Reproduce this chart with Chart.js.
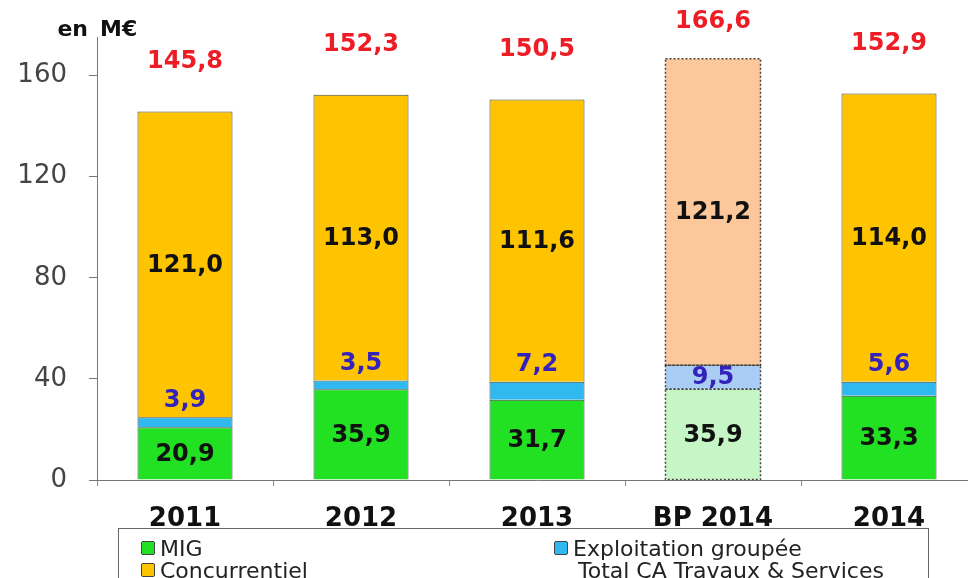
<!DOCTYPE html>
<html><head><meta charset="utf-8">
<script src="https://cdn.jsdelivr.net/npm/chart.js@4/dist/chart.umd.min.js"></script>
<style>
html,body{margin:0;padding:0;background:#fff;overflow:hidden;width:968px;height:578px;position:relative}
#c{position:absolute;left:0;top:0}
#legend{position:absolute;left:118px;top:528px;width:811px;height:60px;border:1px solid #666;font-family:'DejaVu Sans',sans-serif;font-size:22px;color:#222;box-sizing:border-box}
.item{position:absolute;display:flex;align-items:center;height:22px;white-space:nowrap}
.sw{width:14px;height:14px;border:1px solid #444;margin-right:5px;border-radius:2px;box-sizing:border-box}
</style></head>
<body>
<canvas id="c" width="980" height="532" style="width:980px;height:532px"></canvas>
<div id="legend"></div>
<script>
const categories = ['2011', '2012', '2013', 'BP 2014', '2014'];
const migValues = [20.9, 35.9, 31.7, 35.9, 33.3];
const exploitationValues = [3.9, 3.5, 7.2, 9.5, 5.6];
const concurrentielValues = [121.0, 113.0, 111.6, 121.2, 114.0];
const totalValues = [145.8, 152.3, 150.5, 166.6, 152.9];
const yTicks = [0, 40, 80, 120, 160];
const seriesNames = ['MIG', 'Exploitation groupée', 'Concurrentiel', 'Total CA Travaux & Services'];

const budgetIndex = 3;
const colors = {
  mig: ['#22e022', '#c6f5c6'],
  expl: ['#2fb9f0', '#a9cdf5'],
  conc: ['#ffc400', '#fcc89b']
};
const pick = (pair) => (ctx) => ctx.dataIndex === budgetIndex ? pair[1] : pair[0];
const bw = (ctx) => ctx.dataIndex === budgetIndex ? 0 : 1;

const fmt = v => v.toFixed(1).replace('.', ',');

const labelsPlugin = {
  id: 'labelsPlugin',
  afterDatasetsDraw(chart) {
    const ctx = chart.ctx;
    const ys = chart.scales.y;
    ctx.save();
    // dotted outline for BP 2014
    ctx.strokeStyle = '#444';
    ctx.lineWidth = 1.5;
    ctx.setLineDash([2, 2]);
    for (let d = 0; d < 3; d++) {
      const el = chart.getDatasetMeta(d).data[budgetIndex];
      const w = el.width;
      ctx.strokeRect(el.x - w / 2, el.y, w, el.base - el.y);
    }
    ctx.setLineDash([]);
    ctx.font = 'bold 24px "DejaVu Sans"';
    ctx.textAlign = 'center';
    ctx.textBaseline = 'middle';
    chart.data.datasets.forEach((ds, d) => {
      const meta = chart.getDatasetMeta(d);
      meta.data.forEach((el, i) => {
        const v = ds.data[i];
        let y = (el.y + el.base) / 2;
        let color = '#111';
        if (d === 1) {
          color = '#3322bb';
          if (v < 9) y = el.y - 18;
        }
        ctx.fillStyle = color;
        ctx.fillText(fmt(v), el.x, y + 1);
      });
    });
    // totals
    const meta0 = chart.getDatasetMeta(0);
    ctx.fillStyle = '#ee1c25';
    totalValues.forEach((t, i) => {
      const x = meta0.data[i].x;
      let y = ys.getPixelForValue(t) - 50;
      if (y < 22) y = 22;
      ctx.fillText(fmt(t), x, y);
    });
    // unit label
    ctx.fillStyle = '#111';
    ctx.font = 'bold 22px "DejaVu Sans"';
    ctx.textBaseline = 'alphabetic';
    ctx.textAlign = 'right';
    ctx.fillText('en', 88, 36);
    ctx.textAlign = 'left';
    ctx.fillText('M€', 100, 36);
    ctx.restore();
  }
};

new Chart(document.getElementById('c'), {
  type: 'bar',
  data: {
    labels: categories,
    datasets: [
      { label: seriesNames[0], data: migValues, backgroundColor: pick(colors.mig), borderColor: '#3a4a3a', borderWidth: bw, barPercentage: 0.54, categoryPercentage: 1 },
      { label: seriesNames[1], data: exploitationValues, backgroundColor: pick(colors.expl), borderColor: '#3a4a3a', borderWidth: bw, barPercentage: 0.54, categoryPercentage: 1 },
      { label: seriesNames[2], data: concurrentielValues, backgroundColor: pick(colors.conc), borderColor: '#4a4a3a', borderWidth: bw, barPercentage: 0.54, categoryPercentage: 1 }
    ]
  },
  options: {
    responsive: false,
    animation: false,
    layout: { padding: { top: 9, right: 3, left: 0, bottom: 0 } },
    plugins: { legend: { display: false }, tooltip: { enabled: false } },
    scales: {
      x: {
        stacked: true,
        grid: { display: true, drawOnChartArea: false, tickLength: 6, color: '#888', offset: true },
        border: { color: '#777' },
        ticks: { font: { family: 'DejaVu Sans', size: 26, weight: 'bold' }, color: '#111', padding: 18, maxRotation: 0 },
        afterFit: s => { s.height = 52; }
      },
      y: {
        stacked: true,
        min: 0,
        max: 175,
        afterBuildTicks: s => { s.ticks = yTicks.map(v => ({ value: v })); },
        grid: { display: true, drawOnChartArea: false, tickLength: 8, color: '#777' },
        border: { color: '#777' },
        ticks: { font: { family: 'DejaVu Sans', size: 26 }, color: '#444', padding: 22 },
        afterFit: s => { s.width = 97; }
      }
    }
  },
  plugins: [labelsPlugin]
});

// HTML legend
const legendItems = [
  { name: seriesNames[0], color: colors.mig[0], left: 22, top: 8 },
  { name: seriesNames[1], color: colors.expl[0], left: 435, top: 8 },
  { name: seriesNames[2], color: colors.conc[0], left: 22, top: 30 },
  { name: seriesNames[3], color: null, left: 459, top: 30 }
];
const lg = document.getElementById('legend');
legendItems.forEach(it => {
  const d = document.createElement('div');
  d.className = 'item';
  d.style.left = it.left + 'px';
  d.style.top = it.top + 'px';
  if (it.color) {
    const s = document.createElement('span');
    s.className = 'sw';
    s.style.background = it.color;
    d.appendChild(s);
  }
  const t = document.createElement('span');
  t.textContent = it.name;
  d.appendChild(t);
  lg.appendChild(d);
});
</script>
</body></html>
